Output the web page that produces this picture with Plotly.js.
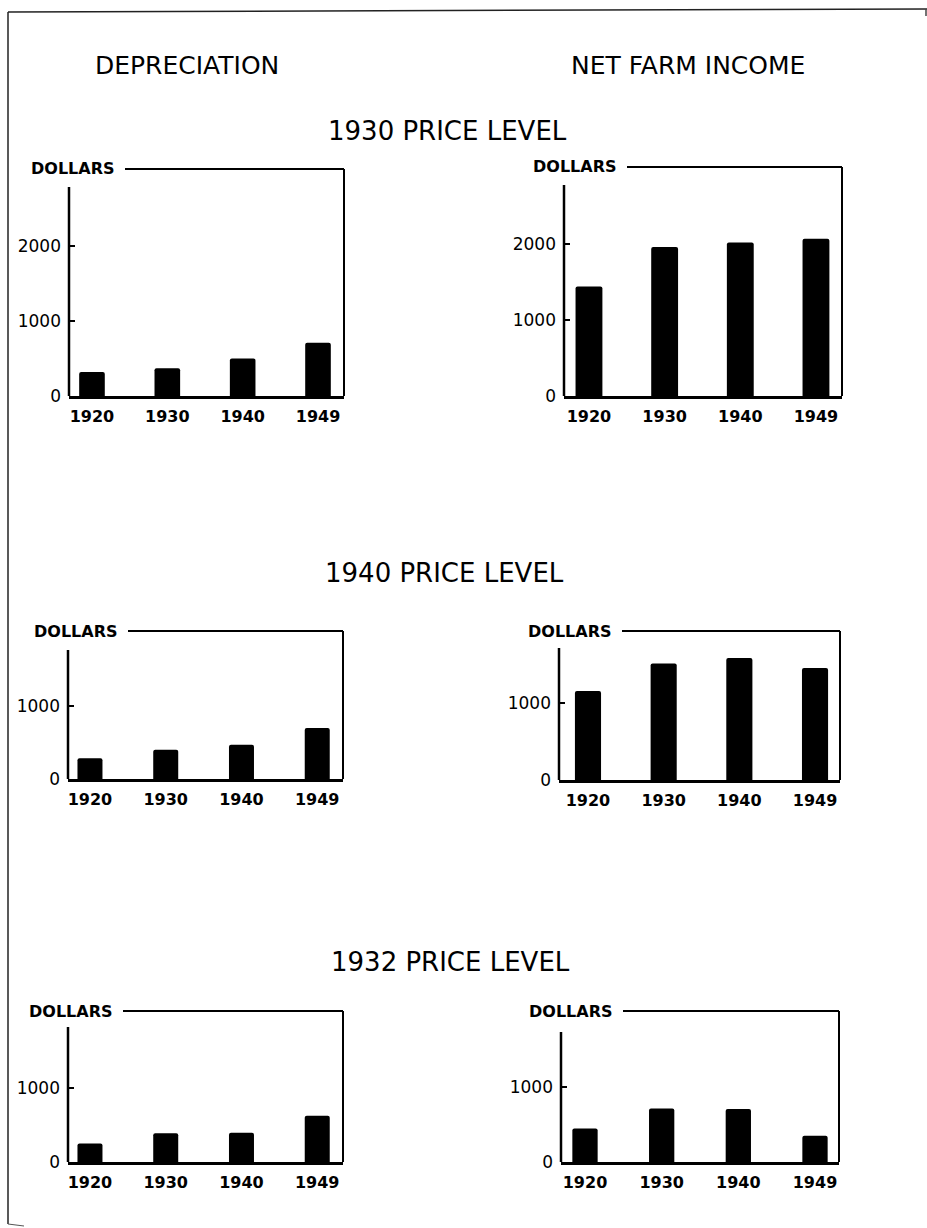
<!DOCTYPE html>
<html>
<head>
<meta charset="utf-8">
<script src="https://cdn.plot.ly/plotly-3.0.1.min.js"></script>
<style>
  html, body { margin: 0; padding: 0; background: #fff; }
  #chart { width: 927px; height: 1228px; }
</style>
</head>
<body>
<div id="chart"></div>
<script>
// ---- data ----
const years = ['1920', '1930', '1940', '1949'];
const depreciation1930 = [320, 370, 500, 710];
const netFarmIncome1930 = [1440, 1960, 2020, 2070];
const depreciation1940 = [285, 400, 470, 700];
const netFarmIncome1940 = [1160, 1520, 1590, 1460];
const depreciation1932 = [250, 390, 395, 625];
const netFarmIncome1932 = [445, 710, 705, 350];
const columnTitles = ['DEPRECIATION', 'NET FARM INCOME'];
const sectionTitles = ['1930 PRICE LEVEL', '1940 PRICE LEVEL', '1932 PRICE LEVEL'];
const unitLabel = 'DOLLARS';

// ---- layout geometry (pixels) ----
const W = 927, H = 1228;
const px = x => x / W;
const py = y => 1 - y / H;

const panels = [
  {values: depreciation1930, left: 69, right: 344, top: 169, base: 396, axisTop: 187, yMax: 3027, ticks: [0, 1000, 2000], xr: [-0.305, 3.345], lineStart: 125, bw: 0.34},
  {values: netFarmIncome1930, left: 564, right: 842, top: 167, base: 396, axisTop: 185, yMax: 3013, ticks: [0, 1000, 2000], xr: [-0.33, 3.344], lineStart: 627, bw: 0.355},
  {values: depreciation1940, left: 68, right: 343, top: 631, base: 779, axisTop: 650, yMax: 2027, ticks: [0, 1000], xr: [-0.29, 3.34], lineStart: 128, bw: 0.33},
  {values: netFarmIncome1940, left: 559, right: 840, top: 631, base: 780, axisTop: 648, yMax: 1943, ticks: [0, 1000], xr: [-0.383, 3.33], lineStart: 622, bw: 0.345},
  {values: depreciation1932, left: 68, right: 343, top: 1011, base: 1162, axisTop: 1027, yMax: 2041, ticks: [0, 1000], xr: [-0.29, 3.34], lineStart: 123, bw: 0.33},
  {values: netFarmIncome1932, left: 561, right: 839, top: 1011, base: 1162, axisTop: 1032, yMax: 2005, ticks: [0, 1000], xr: [-0.313, 3.313], lineStart: 623, bw: 0.33}
];

const FONT = 'DejaVu Sans, Liberation Sans, Arial, sans-serif';
const traces = [];
const layout = {
  width: W, height: H,
  margin: {l: 0, r: 0, t: 0, b: 0},
  paper_bgcolor: '#ffffff',
  plot_bgcolor: 'rgba(0,0,0,0)',
  showlegend: false,
  shapes: [],
  annotations: []
};

panels.forEach((p, i) => {
  const n = i + 1;
  const xa = n === 1 ? 'x' : 'x' + n;
  const ya = n === 1 ? 'y' : 'y' + n;
  traces.push({
    type: 'bar',
    x: years,
    y: p.values,
    xaxis: xa, yaxis: ya,
    width: p.bw,
    marker: {color: '#000000', cornerradius: 2, line: {width: 0}},
    hoverinfo: 'x+y'
  });
  const xKey = n === 1 ? 'xaxis' : 'xaxis' + n;
  const yKey = n === 1 ? 'yaxis' : 'yaxis' + n;
  layout[xKey] = {
    domain: [px(p.left), px(p.right)],
    anchor: ya,
    type: 'category',
    range: p.xr,
    showline: true, linecolor: '#000', linewidth: 2.5,
    ticks: '', showgrid: false, zeroline: false,
    ticklabelstandoff: 4,
    tickfont: {family: FONT, size: 16, color: '#000', weight: 'bold'},
    fixedrange: true
  };
  layout[yKey] = {
    domain: [py(p.base), py(p.top)],
    anchor: xa,
    range: [0, p.yMax],
    tickvals: p.ticks,
    ticktext: p.ticks.map(String),
    ticks: 'inside', ticklen: 6, tickwidth: 2, tickcolor: '#000',
    showline: false, showgrid: false, zeroline: false,
    ticklabelstandoff: 7,
    tickfont: {family: FONT, size: 17, color: '#000'},
    fixedrange: true
  };
  const span = p.base - p.top;
  // left axis (stops short of top frame)
  layout.shapes.push({type: 'line', xref: xa + ' domain', yref: ya + ' domain',
    x0: 0, x1: 0, y0: 0, y1: (p.base - p.axisTop) / span,
    line: {color: '#000', width: 2.5}});
  // right frame
  layout.shapes.push({type: 'line', xref: xa + ' domain', yref: ya + ' domain',
    x0: 1, x1: 1, y0: 0, y1: 1, line: {color: '#000', width: 2}});
  // top frame after the unit label
  layout.shapes.push({type: 'line', xref: xa + ' domain', yref: ya + ' domain',
    x0: (p.lineStart - p.left) / (p.right - p.left), x1: 1, y0: 1, y1: 1,
    line: {color: '#000', width: 2}});
  layout.annotations.push({
    text: unitLabel, xref: 'paper', yref: 'paper',
    x: px(p.lineStart - 8), y: py(p.top), xanchor: 'right', yanchor: 'middle',
    showarrow: false,
    font: {family: FONT, size: 16, color: '#000', weight: 'bold'}
  });
});

// column titles
[[187, 65], [688, 65]].forEach((pos, i) => {
  layout.annotations.push({text: columnTitles[i], xref: 'paper', yref: 'paper',
    x: px(pos[0]), y: py(pos[1]), xanchor: 'center', yanchor: 'middle', showarrow: false,
    font: {family: FONT, size: 25, color: '#000'}});
});
// section titles
[[447, 131], [444, 573], [450, 962]].forEach((pos, i) => {
  layout.annotations.push({text: sectionTitles[i], xref: 'paper', yref: 'paper',
    x: px(pos[0]), y: py(pos[1]), xanchor: 'center', yanchor: 'middle', showarrow: false,
    font: {family: FONT, size: 26, color: '#000'}});
});

// page border of the scanned sheet
layout.shapes.push({type: 'line', xref: 'paper', yref: 'paper', x0: px(8), x1: px(927), y0: py(12), y1: py(9), line: {color: '#222', width: 1.5}});
layout.shapes.push({type: 'line', xref: 'paper', yref: 'paper', x0: px(8), x1: px(8), y0: py(12), y1: py(1224), line: {color: '#222', width: 1.5}});
layout.shapes.push({type: 'line', xref: 'paper', yref: 'paper', x0: px(8), x1: px(24), y0: py(1224), y1: py(1226), line: {color: '#555', width: 1}});
layout.shapes.push({type: 'line', xref: 'paper', yref: 'paper', x0: px(926), x1: px(926), y0: py(9), y1: py(16), line: {color: '#444', width: 1.5}});

Plotly.newPlot('chart', traces, layout, {staticPlot: true, displayModeBar: false});
</script>
</body>
</html>
